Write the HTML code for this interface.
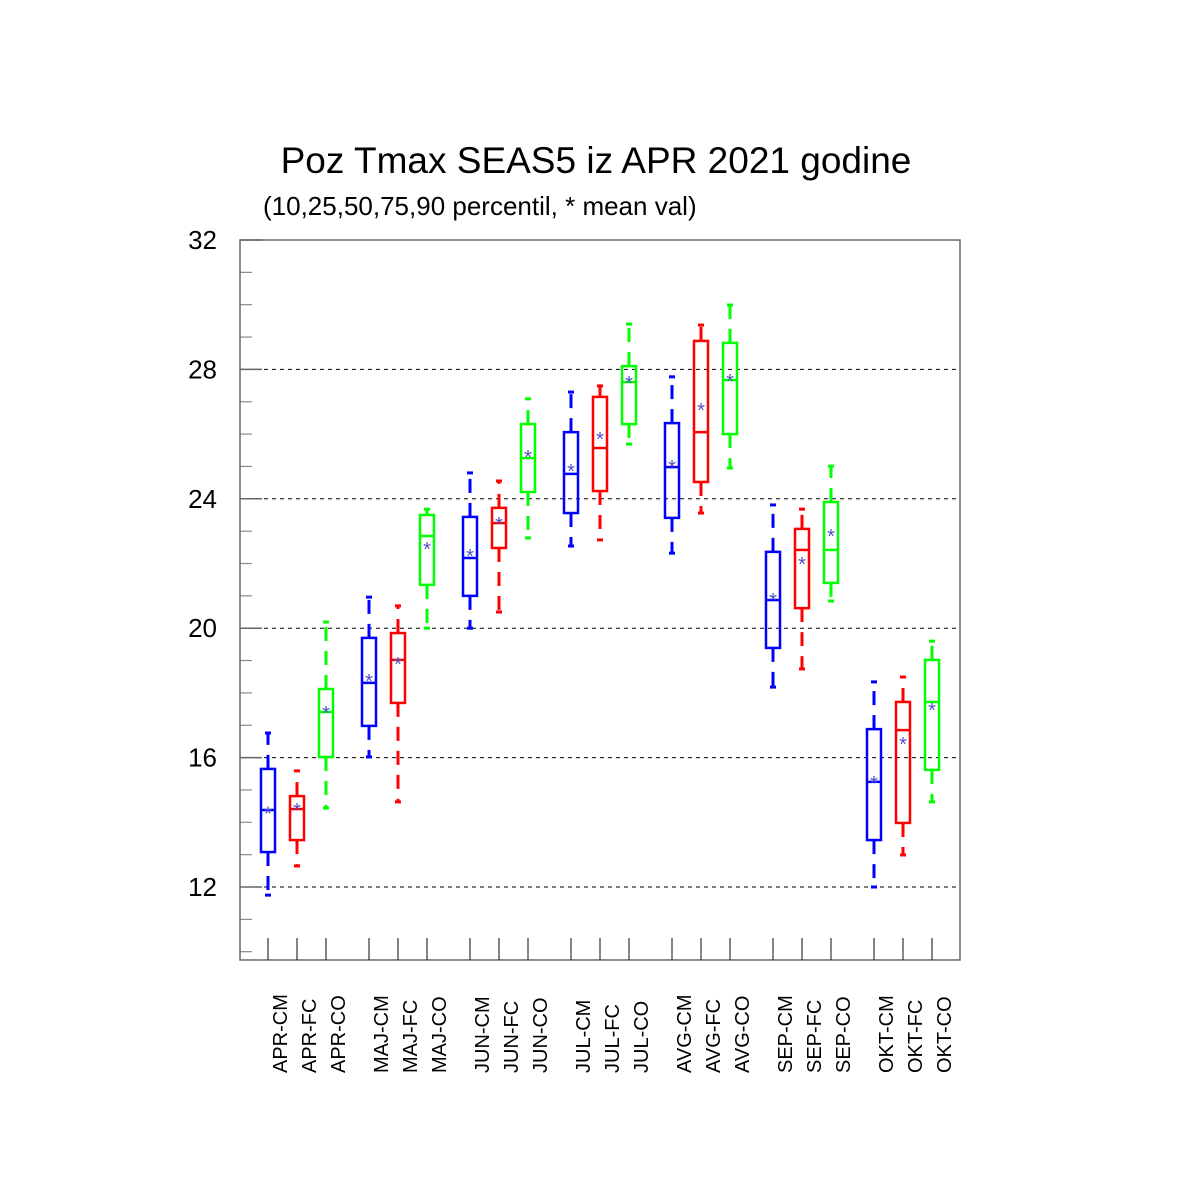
<!DOCTYPE html>
<html><head><meta charset="utf-8"><style>body{margin:0;background:#fff}svg{display:block}text{font-family:"Liberation Sans",sans-serif}</style></head>
<body>
<svg id="chart" width="1200" height="1200" xmlns="http://www.w3.org/2000/svg">
<rect width="1200" height="1200" fill="#fff"/>
<text x="596" y="173" font-size="37" text-anchor="middle">Poz Tmax SEAS5 iz APR 2021 godine</text>
<text x="263" y="215" font-size="26">(10,25,50,75,90 percentil, * mean val)</text>
<g id="grid"></g><g id="axes"></g><g id="boxes"></g>
</svg>
<script>
const categories=["APR-CM","APR-FC","APR-CO","MAJ-CM","MAJ-FC","MAJ-CO","JUN-CM","JUN-FC","JUN-CO","JUL-CM","JUL-FC","JUL-CO","AVG-CM","AVG-FC","AVG-CO","SEP-CM","SEP-FC","SEP-CO","OKT-CM","OKT-FC","OKT-CO"];
const p10=[11.75,12.65,14.44,16.02,14.63,20.0,20.0,20.5,22.79,22.54,22.73,25.69,22.32,23.56,24.95,18.18,18.74,20.84,12.0,12.99,14.63];
const p25=[13.08,13.45,16.02,16.98,17.69,21.34,21.0,22.48,24.21,23.56,24.24,26.31,23.41,24.52,26.0,19.39,20.62,21.4,13.45,13.98,15.62];
const p50=[14.38,14.41,17.41,18.31,19.02,22.85,22.17,23.25,25.26,24.77,25.57,27.61,24.98,26.06,27.67,20.87,22.42,22.42,15.25,16.85,17.72];
const p75=[15.65,14.81,18.12,19.70,19.85,23.5,23.44,23.72,26.31,26.06,27.15,28.1,26.34,28.88,28.82,22.36,23.07,23.9,16.88,17.72,19.02];
const p90=[16.76,15.59,20.19,20.96,20.69,23.68,24.8,24.55,27.09,27.3,27.49,29.4,27.77,29.37,29.99,23.81,23.68,25.01,18.34,18.49,19.6];
const means=[14.3,14.41,17.41,18.4,18.92,22.48,22.26,23.25,25.32,24.89,25.88,27.61,25.01,26.78,27.67,20.9,22.02,22.88,15.25,16.45,17.5];
const yTicks=[12,16,20,24,28,32];
const colors=["#0000ff","#ff0000","#00ff00"];
const X0=240,X1=960,Y0=240,Y1=960,YMAX=32,PPU=32.35;
const y=v=>Y0+(YMAX-v)*PPU;
const x=i=>268+Math.floor(i/3)*101+(i%3)*29;
const NS="http://www.w3.org/2000/svg";
function mk(parent,tag,attrs){const e=document.createElementNS(NS,tag);for(const k in attrs)e.setAttribute(k,attrs[k]);document.getElementById(parent).appendChild(e);return e;}
// grid
yTicks.forEach(t=>{if(t<YMAX){const g=mk('grid','line',{x1:X0,x2:X1,y1:y(t),y2:y(t),stroke:'#000','stroke-width':1,'stroke-dasharray':'4,4'});

}
const l=mk('axes','text',{x:217,y:y(t)+9,'font-size':26,'text-anchor':'end'});l.textContent=t;


mk('axes','line',{x1:X0,x2:X0+22,y1:y(t),y2:y(t),stroke:'#666','stroke-width':1.5});});
for(let v=10;v<32;v++){if(yTicks.indexOf(v)<0)mk('axes','line',{x1:X0,x2:X0+12,y1:y(v),y2:y(v),stroke:'#888','stroke-width':1.2});}
const fr=mk('axes','rect',{x:X0,y:Y0,width:X1-X0,height:Y1-Y0,fill:'none',stroke:'#666','stroke-width':1.5});


categories.forEach((c,i)=>{
const cx=x(i),col=colors[i%3];
mk('axes','line',{x1:cx,x2:cx,y1:Y1,y2:Y1-22,stroke:'#333','stroke-width':1.2});
const t=mk('axes','text',{x:cx+19,y:1073,'font-size':20,transform:`rotate(-90 ${cx+19} 1073)`});t.textContent=c;


const g=mk('boxes','g',{});


const add=(tag,a)=>{const e=document.createElementNS(NS,tag);for(const k in a)e.setAttribute(k,a[k]);g.appendChild(e);return e;};
add('line',{x1:cx,x2:cx,y1:y(p75[i]),y2:y(p90[i]),stroke:col,'stroke-width':3,'stroke-dasharray':'14,10'});
add('line',{x1:cx,x2:cx,y1:y(p25[i]),y2:y(p10[i]),stroke:col,'stroke-width':3,'stroke-dasharray':'14,10'});
add('line',{x1:cx-3,x2:cx+3,y1:y(p90[i]),y2:y(p90[i]),stroke:col,'stroke-width':3});
add('line',{x1:cx-3,x2:cx+3,y1:y(p10[i]),y2:y(p10[i]),stroke:col,'stroke-width':3});
add('rect',{x:cx-7,y:y(p75[i]),width:14,height:y(p25[i])-y(p75[i]),fill:'none',stroke:col,'stroke-width':2.5});
add('line',{x1:cx-7,x2:cx+7,y1:y(p50[i]),y2:y(p50[i]),stroke:col,'stroke-width':2.5});
const m=add('text',{x:cx,y:y(means[i])+8,'font-size':20,'text-anchor':'middle',fill:'#5050c8'});m.textContent='*';
});
</script>
</body></html>
